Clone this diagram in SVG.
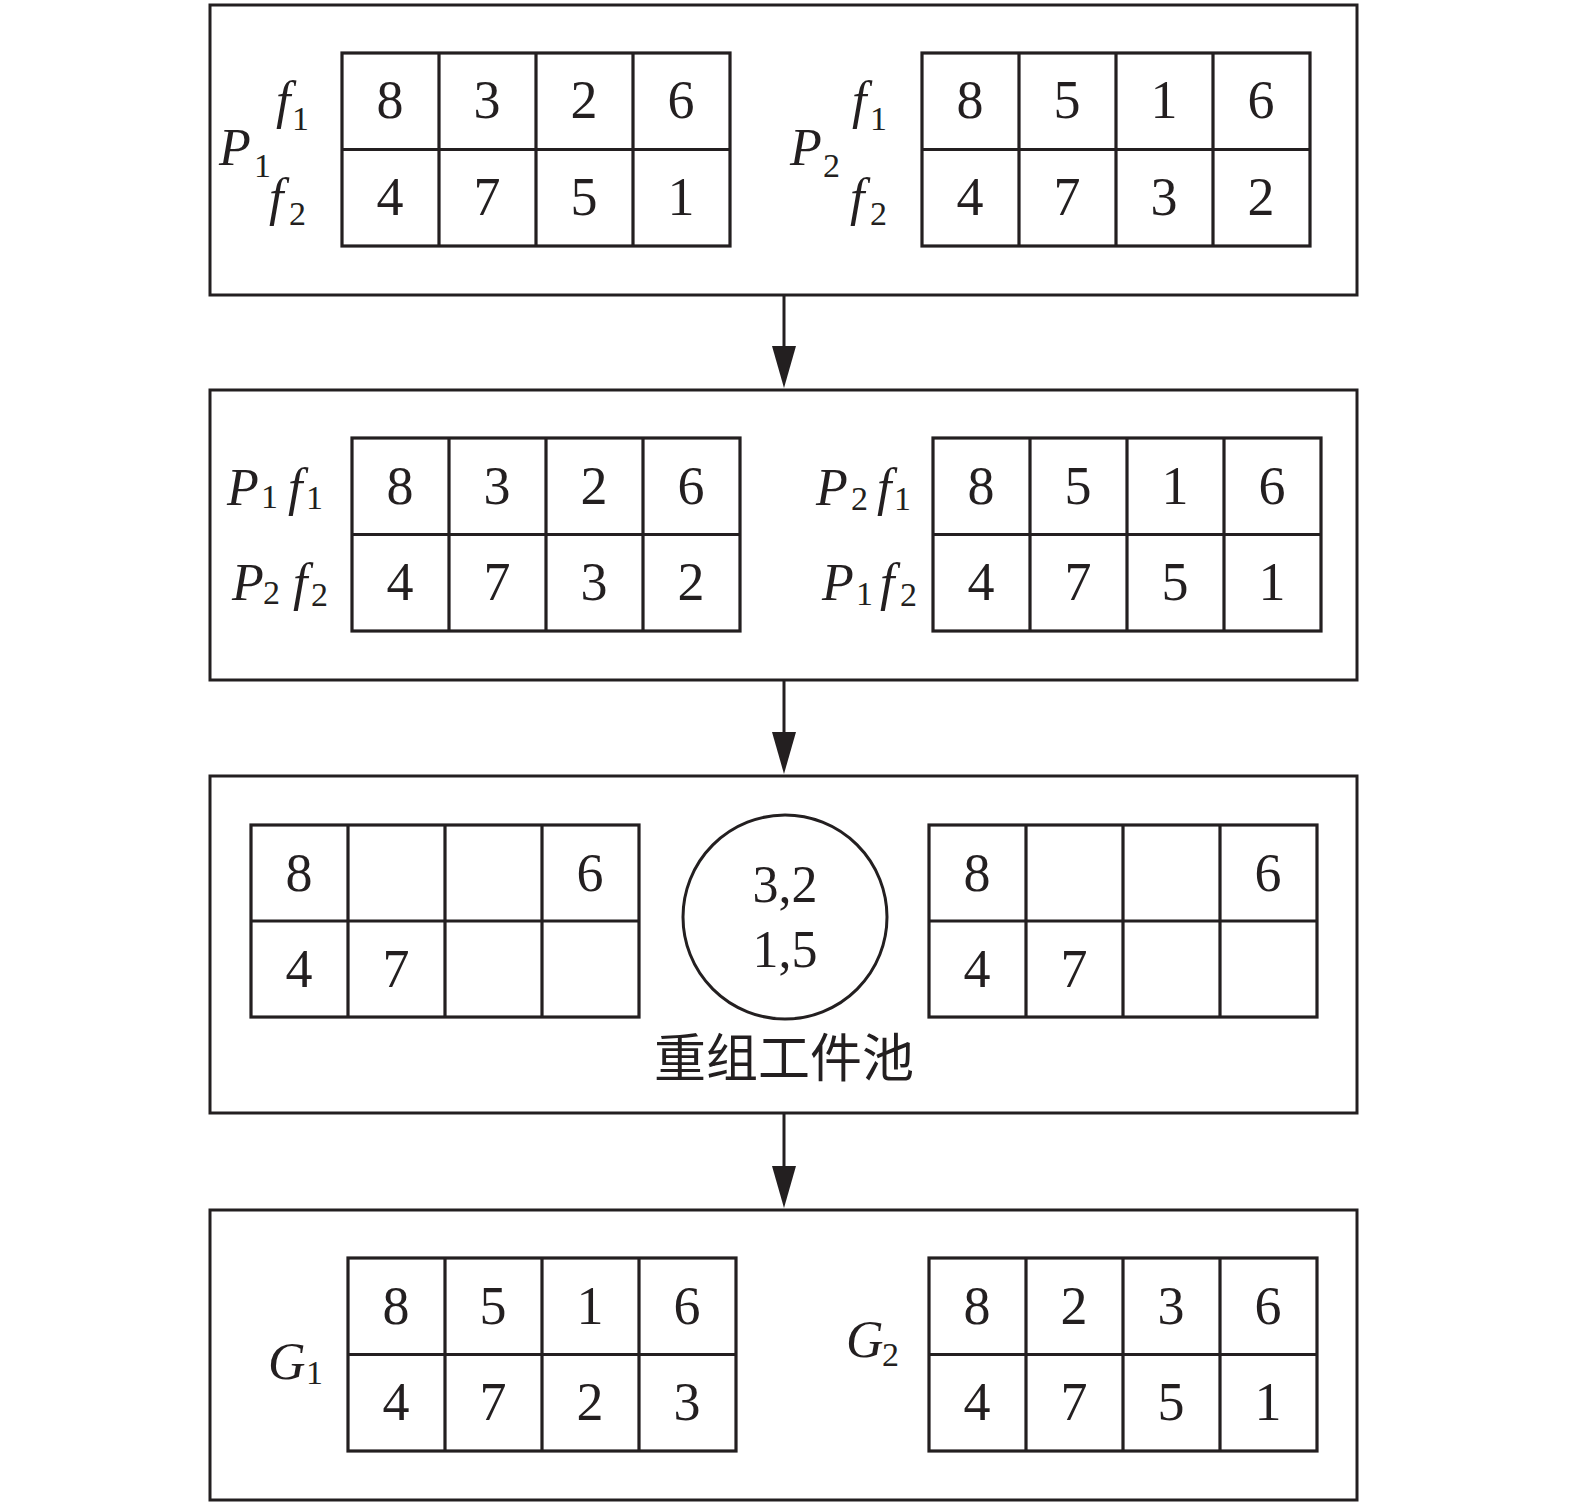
<svg xmlns="http://www.w3.org/2000/svg" xmlns:xlink="http://www.w3.org/1999/xlink" width="1575" height="1512" viewBox="0 0 1575 1512">
<style>
.panel{fill:none;stroke:#231f20;stroke-width:3}
.grid{fill:none;stroke:#231f20;stroke-width:3.2}
.num{font-family:"Liberation Serif","Times New Roman",serif;font-size:54px;fill:#231f20;text-anchor:middle}
.lab{font-family:"Liberation Serif","Times New Roman",serif;font-size:52px;font-style:italic;fill:#231f20}
.sub{font-family:"Liberation Serif","Times New Roman",serif;font-size:34px;font-style:normal;fill:#231f20}
.cjk{font-family:"Noto Sans CJK SC","Noto Sans",sans-serif;font-size:52px;fill:#231f20;text-anchor:middle}
.conn{stroke:#231f20;stroke-width:3;fill:none}
</style>
<defs>
<g id="tbl">
<rect x="0" y="0" width="388" height="193" class="grid"/>
<path d="M97 0V193M194 0V193M291 0V193M0 96.5H388" class="grid"/>
</g>
<marker id="arr" markerWidth="26" markerHeight="44" refX="13" refY="42" orient="auto-start-reverse" markerUnits="userSpaceOnUse" viewBox="0 0 26 44">
<path d="M1 0L25 0L13 42Z" fill="#231f20"/>
</marker>
</defs>
<rect width="1575" height="1512" fill="#fff"/>

<g id="connectors">
<path d="M784 296V346" class="conn"/><path d="M772 346L796 346L784 388Z" fill="#231f20"/>
<path d="M784 681V732" class="conn"/><path d="M772 732L796 732L784 774Z" fill="#231f20"/>
<path d="M784 1114V1166" class="conn"/><path d="M772 1166L796 1166L784 1208Z" fill="#231f20"/>
</g>

<g id="panel1">
<rect x="210" y="5" width="1147" height="290" class="panel"/>
<use xlink:href="#tbl" transform="translate(342,53)"/>
<g class="num">
<text x="390" y="118">8</text><text x="487" y="118">3</text><text x="584" y="118">2</text><text x="681" y="118">6</text>
<text x="390" y="215">4</text><text x="487" y="215">7</text><text x="584" y="215">5</text><text x="681" y="215">1</text>
</g>
<text class="lab" x="219" y="165">P</text><text class="sub" x="254" y="177">1</text>
<text class="lab" x="276" y="118">f</text><text class="sub" x="292" y="130">1</text>
<text class="lab" x="269" y="215">f</text><text class="sub" x="289" y="225">2</text>
<use xlink:href="#tbl" transform="translate(922,53)"/>
<g class="num">
<text x="970" y="118">8</text><text x="1067" y="118">5</text><text x="1164" y="118">1</text><text x="1261" y="118">6</text>
<text x="970" y="215">4</text><text x="1067" y="215">7</text><text x="1164" y="215">3</text><text x="1261" y="215">2</text>
</g>
<text class="lab" x="790" y="165">P</text><text class="sub" x="823" y="177">2</text>
<text class="lab" x="852" y="118">f</text><text class="sub" x="870" y="130">1</text>
<text class="lab" x="850" y="215">f</text><text class="sub" x="870" y="225">2</text>
</g>

<g id="panel2">
<rect x="210" y="390" width="1147" height="290" class="panel"/>
<use xlink:href="#tbl" transform="translate(352,438)"/>
<g class="num">
<text x="400" y="504">8</text><text x="497" y="504">3</text><text x="594" y="504">2</text><text x="691" y="504">6</text>
<text x="400" y="600">4</text><text x="497" y="600">7</text><text x="594" y="600">3</text><text x="691" y="600">2</text>
</g>
<text class="lab" x="227" y="505">P</text><text class="sub" x="261" y="508">1</text>
<text class="lab" x="288" y="505">f</text><text class="sub" x="306" y="509">1</text>
<text class="lab" x="232" y="600">P</text><text class="sub" x="263" y="604">2</text>
<text class="lab" x="293" y="600">f</text><text class="sub" x="311" y="606">2</text>
<use xlink:href="#tbl" transform="translate(933,438)"/>
<g class="num">
<text x="981" y="504">8</text><text x="1078" y="504">5</text><text x="1175" y="504">1</text><text x="1272" y="504">6</text>
<text x="981" y="600">4</text><text x="1078" y="600">7</text><text x="1175" y="600">5</text><text x="1272" y="600">1</text>
</g>
<text class="lab" x="816" y="505">P</text><text class="sub" x="851" y="510">2</text>
<text class="lab" x="877" y="505">f</text><text class="sub" x="894" y="510">1</text>
<text class="lab" x="822" y="600">P</text><text class="sub" x="856" y="605">1</text>
<text class="lab" x="880" y="600">f</text><text class="sub" x="900" y="606">2</text>
</g>

<g id="panel3">
<rect x="210" y="776" width="1147" height="337" class="panel"/>
<use xlink:href="#tbl" transform="translate(251,825) scale(1,0.995)"/>
<g class="num">
<text x="299" y="891">8</text><text x="590" y="891">6</text>
<text x="299" y="987">4</text><text x="396" y="987">7</text>
</g>
<use xlink:href="#tbl" transform="translate(929,825) scale(1,0.995)"/>
<g class="num">
<text x="977" y="891">8</text><text x="1268" y="891">6</text>
<text x="977" y="987">4</text><text x="1074" y="987">7</text>
</g>
<circle cx="785" cy="917" r="102" fill="none" stroke="#231f20" stroke-width="3"/>
<text class="num" x="785" y="902" style="font-size:52px">3,2</text>
<text class="num" x="785" y="967" style="font-size:52px">1,5</text>
<text class="cjk" x="784" y="1077">重组工件池</text>
</g>

<g id="panel4">
<rect x="210" y="1210" width="1147" height="290" class="panel"/>
<use xlink:href="#tbl" transform="translate(348,1258)"/>
<g class="num">
<text x="396" y="1324">8</text><text x="493" y="1324">5</text><text x="590" y="1324">1</text><text x="687" y="1324">6</text>
<text x="396" y="1420">4</text><text x="493" y="1420">7</text><text x="590" y="1420">2</text><text x="687" y="1420">3</text>
</g>
<text class="lab" x="268" y="1379">G</text><text class="sub" x="306" y="1384">1</text>
<use xlink:href="#tbl" transform="translate(929,1258)"/>
<g class="num">
<text x="977" y="1324">8</text><text x="1074" y="1324">2</text><text x="1171" y="1324">3</text><text x="1268" y="1324">6</text>
<text x="977" y="1420">4</text><text x="1074" y="1420">7</text><text x="1171" y="1420">5</text><text x="1268" y="1420">1</text>
</g>
<text class="lab" x="846" y="1357">G</text><text class="sub" x="882" y="1366">2</text>
</g>
</svg>
